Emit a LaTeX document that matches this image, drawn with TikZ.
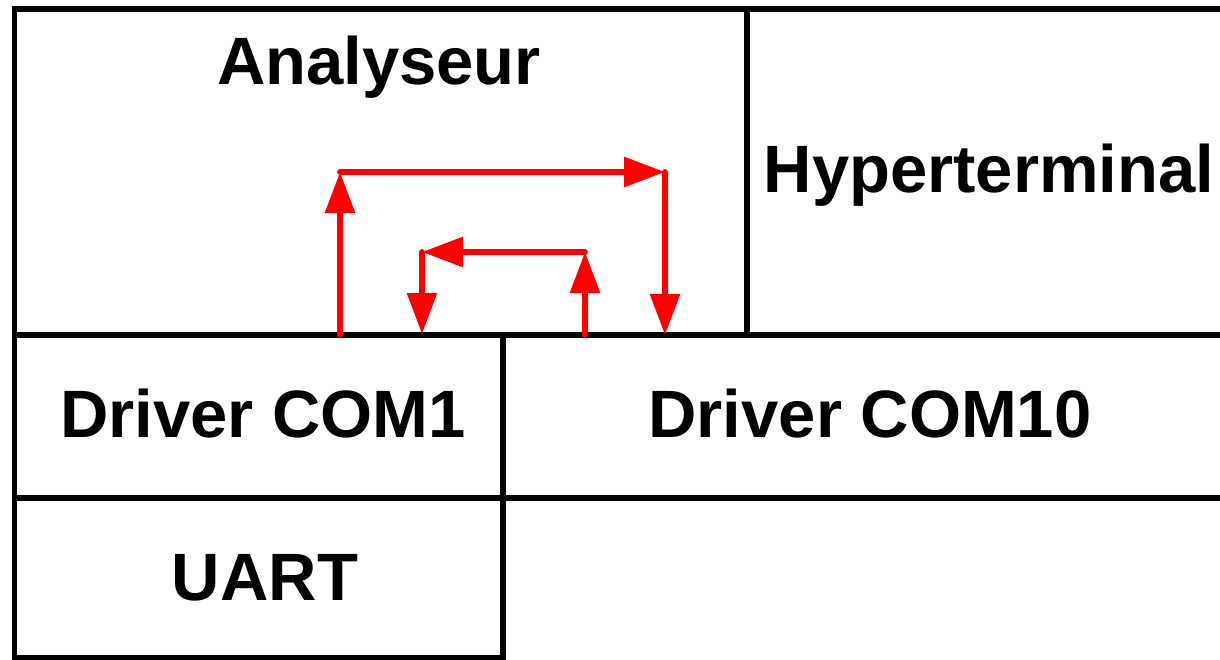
\documentclass[tikz,border=0pt]{standalone}
\usepackage{fontspec}
\setmainfont{Liberation Sans}
\usetikzlibrary{arrows.meta}

\tikzset{
  frame/.style={line width=5.5pt, black},
  label/.style={anchor=base, inner sep=0pt, font=\bfseries\fontsize{67}{80}\selectfont},
  flow/.style={line width=5.8pt, red, line cap=round,
    -{Triangle[length=41pt, width=29pt]}}
}

\begin{document}
\begin{tikzpicture}[x=1pt, y=-1pt]
  \useasboundingbox (0,0) rectangle (1220,660);

  % layer grid
  \draw[frame] (1230,9) -- (14.5,9) -- (14.5,670);
  \draw[frame] (747,9) -- (747,335);
  \draw[frame] (14.5,335) -- (1230,335);
  \draw[frame] (503,335) -- (503,670);
  \draw[frame] (14.5,498) -- (1230,498);
  \draw[frame] (14.5,658) -- (503,658);

  % layer names
  \node[label] (analyseur) at (379,85) {Analyseur};
  \node[label] (hyper) at (989,193) {Hyperterminal};
  \node[label] (com1) at (263,437) {Driver COM1};
  \node[label] (com10) at (870,437) {Driver COM10};
  \node[label] (uart) at (265,600) {UART};

  % outer path: COM1 up through the analyser and down to COM10
  \coordinate (a0) at (340,335);
  \coordinate (a1) at (340,172);
  \coordinate (a2) at (665,172);
  \coordinate (a3) at (665,335);
  \draw[flow] (a0) -- (a1);
  \draw[flow] (a1) -- (a2);
  \draw[flow] (a2) -- (a3);

  % inner path: COM10 up through the analyser and back down to COM1
  \coordinate (b0) at (585,335);
  \coordinate (b1) at (585,252);
  \coordinate (b2) at (422,252);
  \coordinate (b3) at (422,334);
  \draw[flow] (b0) -- (b1);
  \draw[flow] (b1) -- (b2);
  \draw[flow] (b2) -- (b3);
\end{tikzpicture}
\end{document}
